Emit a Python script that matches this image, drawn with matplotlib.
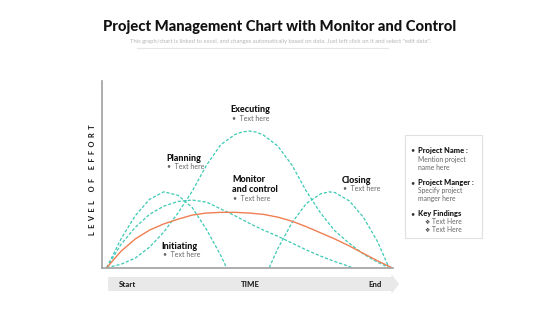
# project management chart: effort over time for each phase

import matplotlib.pyplot as plt
from matplotlib.patches import Polygon, Rectangle
from matplotlib.lines import Line2D

plt.rcParams['font.family'] = ['Lato', 'DejaVu Sans']

# effort curves (time in % of project, effort relative to executing peak)
initiating_x = [0, 5, 10, 15, 20, 25, 30, 35, 40, 42]
initiating_y = [0, 21, 38, 50, 55.5, 53, 44, 28, 9, 0]

planning_x = [0, 5, 10, 15, 20, 25, 30, 35, 40, 45, 50, 55, 60, 65, 70, 75, 80, 85, 86]
planning_y = [0, 17, 29.5, 39, 45, 48.5, 49.5, 48, 43, 38, 32.5, 27.5, 23, 18, 13, 8.5, 4.5, 1, 0]

executing_x = [0, 5, 10, 15, 20, 25, 30, 35, 40, 45, 47.5, 50, 52.5, 55, 60, 65, 70, 75, 80, 85, 90, 95, 99]
executing_y = [0, 2.5, 7, 15, 26, 40, 56, 75, 90, 97.5, 99.3, 100, 99.2, 97, 89, 75, 56, 40, 27, 18, 10, 4, 0]

monitor_x = [0, 5, 10, 15, 20, 25, 30, 35, 40, 45, 50, 55, 60, 65, 70, 75, 80, 85, 90, 95, 100]
monitor_y = [0, 12, 21, 27.5, 32, 35.5, 38.5, 40, 40.5, 40.5, 40, 39, 37, 34, 30, 25.5, 21, 16, 10.5, 5, 0]

closing_x = [57, 60, 65, 70, 75, 78, 80, 85, 90, 95, 99]
closing_y = [0, 14, 33, 47, 54, 55.5, 55, 49, 37, 19, 0]

# phase labels: name, x, y of name, y of bullet
phase_names = ['Executing', 'Planning', 'Monitor\nand control', 'Closing', 'Initiating']
phase_x = [43.5, 20.9, 44, 82.4, 19.3]
phase_y = [115.4, 80, 60.8, 64.1, 15.5]
bullet_y = [109.5, 73.8, 50.9, 58, 9.4]

teal = '#3cc9b5'
orange = '#ef7f52'

fig = plt.figure(figsize=(5.6, 3.15), dpi=100)
W, H = 560, 315


def fx(x):
    return x / W


def fy(y):
    return 1 - y / H


# title and subtitle
fig.text(fx(280), fy(27), 'Project Management Chart with Monitor and Control',
         ha='center', va='center', fontsize=10.6, fontweight='black', color='#111111')
fig.text(fx(281), fy(41), 'This graph/chart is linked to excel, and changes automatically based on data. '
         'Just left click on it and select "edit data".',
         ha='center', va='center', fontsize=4.2, color='#b5b5b5')
fig.add_artist(Line2D([fx(137), fx(388)], [fy(48), fy(48)], color='#e6e6e6', lw=0.8))

# main axes
ax = fig.add_axes([fx(101.7), fy(267.7), fx(393) - fx(101.7), fy(81) - fy(267.7)])
ax.plot(initiating_x, initiating_y, color=teal, lw=0.9, ls=(0, (2.5, 1.5)))
ax.plot(planning_x, planning_y, color=teal, lw=0.9, ls=(0, (2.5, 1.5)))
ax.plot(executing_x, executing_y, color=teal, lw=0.9, ls=(0, (2.5, 1.5)))
ax.plot(closing_x, closing_y, color=teal, lw=0.9, ls=(0, (2.5, 1.5)))
ax.plot(monitor_x, monitor_y, color=orange, lw=1.0)
ax.set_xlim(-1.75, 100.4)
ax.set_ylim(0, 136.6)
ax.set_xticks([])
ax.set_yticks([])
for s in ['top', 'right']:
    ax.spines[s].set_visible(False)
for s in ['left', 'bottom']:
    ax.spines[s].set_color('#a0a0a0')
    ax.spines[s].set_linewidth(1.2)
ax.patch.set_alpha(0)

for i in range(len(phase_names)):
    ax.text(phase_x[i], phase_y[i], phase_names[i], fontsize=6.5, fontweight='black',
            color='#111111', va='center', ha='left', linespacing=1.2)
    ax.text(phase_x[i] + 0.3, bullet_y[i], '\u2022  Text here', fontsize=5,
            color='#666666', va='center', ha='left')

# y label
fig.text(fx(92.5), fy(180), 'L  E  V  E  L     O  F     E  F  F  O  R  T', rotation=90,
         ha='center', va='center', fontsize=5.3, fontweight='black', color='#222222')

# time arrow
arrow = Polygon([[fx(108), fy(277)], [fx(391.5), fy(277)], [fx(391.5), fy(274)],
                 [fx(399), fy(284)], [fx(391.5), fy(294)], [fx(391.5), fy(291)],
                 [fx(108), fy(291)]], closed=True, facecolor='#e9e9e9', edgecolor='none',
                transform=fig.transFigure)
fig.add_artist(arrow)
fig.text(fx(119), fy(284.5), 'Start', fontsize=5.6, fontweight='black', va='center', ha='left', color='#222222')
fig.text(fx(250), fy(284.5), 'TIME', fontsize=5.6, fontweight='black', va='center', ha='center', color='#222222')
fig.text(fx(382), fy(284.5), 'End', fontsize=5.6, fontweight='black', va='center', ha='right', color='#222222')

# info box on the right
box = Rectangle((fx(405), fy(238)), fx(482) - fx(405), fy(135) - fy(238), facecolor='white',
                edgecolor='#e0e0e0', lw=0.8, transform=fig.transFigure)
fig.add_artist(box)
fig.text(fx(410), fy(150), '\u2022', fontsize=5.3, va='center', color='#333333')
fig.text(fx(417.5), fy(150), 'Project Name :', fontsize=5.4, fontweight='black', va='center', color='#111111')
fig.text(fx(417.5), fy(159.3), 'Mention project', fontsize=4.9, va='center', color='#666666')
fig.text(fx(417.5), fy(168), 'name here', fontsize=4.9, va='center', color='#666666')
fig.text(fx(410), fy(182.7), '\u2022', fontsize=5.3, va='center', color='#333333')
fig.text(fx(417.5), fy(182.7), 'Project Manger :', fontsize=5.4, fontweight='black', va='center', color='#111111')
fig.text(fx(417.5), fy(191), 'Specify project', fontsize=4.9, va='center', color='#666666')
fig.text(fx(417.5), fy(199), 'manger here', fontsize=4.9, va='center', color='#666666')
fig.text(fx(410), fy(213.3), '\u2022', fontsize=5.3, va='center', color='#333333')
fig.text(fx(417.5), fy(213.3), 'Key Findings', fontsize=5.4, fontweight='black', va='center', color='#111111')
for yy in [222, 230]:
    fig.text(fx(425), fy(yy), '\u2756', fontsize=4.2, va='center', color='#444444', family='DejaVu Sans')
    fig.text(fx(432), fy(yy), 'Text Here', fontsize=4.9, va='center', color='#666666')

fig.savefig('out.png', dpi=100)
